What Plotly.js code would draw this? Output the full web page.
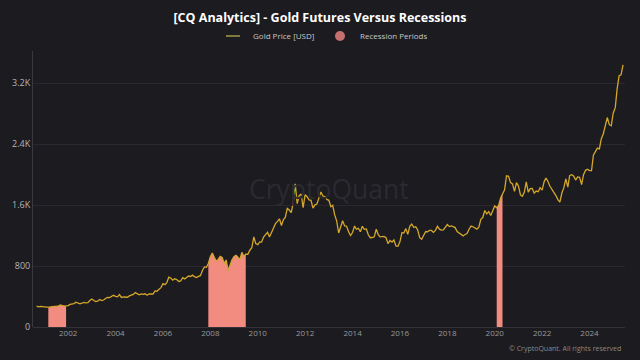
<!DOCTYPE html>
<html>
<head>
<meta charset="utf-8">
<script src="https://cdn.plot.ly/plotly-3.0.1.min.js"></script>
<style>
  html, body { margin: 0; padding: 0; background: #1c1b20; }
  #chart { width: 640px; height: 360px; }
</style>
</head>
<body>
<div id="chart"></div>
<script>
// ---- Data ----
const chartTitle = '[CQ Analytics] - Gold Futures Versus Recessions';
const goldName = 'Gold Price [USD]';
const recessionName = 'Recession Periods';
const goldStartYear = 2000;
const goldStartMonth = 9; // September 2000, monthly values follow
const goldPrice = [
  273, 265, 270, 272,                                              // 2000 Sep-Dec
  265, 262, 258, 263, 268, 270, 266, 273, 290, 280, 275, 278,      // 2001
  282, 296, 302, 308, 326, 318, 304, 312, 323, 317, 319, 347,      // 2002
  368, 348, 335, 338, 361, 346, 354, 375, 388, 386, 398, 416,      // 2003
  402, 396, 426, 388, 394, 395, 391, 408, 416, 428, 452, 438,      // 2004
  423, 435, 428, 436, 417, 436, 430, 433, 473, 470, 495, 517,      // 2005
  569, 556, 582, 654, 643, 614, 633, 624, 598, 604, 647, 632,      // 2006
  651, 669, 663, 681, 660, 650, 665, 673, 743, 789, 783, 834,      // 2007
  923, 972, 916, 865, 887, 928, 912, 833, 880, 740, 814, 884,      // 2008
  927, 942, 916, 883, 980, 927, 955, 955, 1008, 1040, 1182, 1096,  // 2009
  1081, 1118, 1115, 1180, 1212, 1244, 1181, 1246, 1307, 1357, 1386, 1421, // 2010
  1332, 1411, 1439, 1556, 1536, 1500, 1628, 1880, 1620, 1724, 1746, 1566, // 2011
  1737, 1710, 1669, 1664, 1561, 1604, 1615, 1687, 1772, 1719, 1713, 1675, // 2012
  1663, 1578, 1596, 1472, 1393, 1234, 1312, 1395, 1327, 1323, 1250, 1202, // 2013
  1240, 1326, 1284, 1296, 1250, 1322, 1282, 1287, 1210, 1172, 1175, 1184, // 2014
  1283, 1213, 1183, 1184, 1190, 1172, 1095, 1135, 1115, 1142, 1065, 1061, // 2015
  1118, 1238, 1234, 1292, 1216, 1322, 1351, 1309, 1316, 1273, 1173, 1152, // 2016
  1211, 1253, 1249, 1268, 1268, 1242, 1269, 1322, 1284, 1271, 1275, 1309, // 2017
  1345, 1318, 1327, 1318, 1305, 1253, 1233, 1206, 1196, 1215, 1226, 1283, // 2018
  1325, 1316, 1298, 1285, 1311, 1413, 1437, 1529, 1485, 1514, 1464, 1523, // 2019
  1589, 1566, 1596, 1694, 1751, 1800, 1986, 1978, 1895, 1879, 1780, 1895, // 2020
  1850, 1734, 1716, 1769, 1906, 1771, 1817, 1818, 1757, 1784, 1776, 1829, // 2021
  1796, 1909, 1954, 1911, 1848, 1807, 1782, 1726, 1672, 1640, 1759, 1826, // 2022
  1945, 1836, 1986, 1999, 1982, 1929, 1970, 1966, 1870, 2000, 2057, 2072, // 2023
  2053, 2054, 2254, 2302, 2348, 2339, 2473, 2537, 2660, 2750, 2656, 2641, // 2024
  2810, 2880, 3120, 3300, 3310, 3440                                // 2025 Jan-Jun
];
const recessionStart = ['2001-03-01', '2007-12-01', '2020-02-01'];
const recessionEnd   = ['2001-11-30', '2009-06-30', '2020-04-30'];
const yTickVals  = [0, 800, 1600, 2400, 3200];
const yTickText  = ['0', '800', '1.6K', '2.4K', '3.2K'];

// ---- Build dates ----
function pad(n){ return (n < 10 ? '0' : '') + n; }
const goldDates = goldPrice.map((_, i) => {
  const m0 = goldStartMonth - 1 + i;
  const y = goldStartYear + Math.floor(m0 / 12);
  const m = (m0 % 12) + 1;
  return y + '-' + pad(m) + '-01';
});
const goldT = goldDates.map(d => Date.parse(d));

function valueAt(t){
  for (let i = 0; i < goldT.length - 1; i++) {
    if (t >= goldT[i] && t <= goldT[i+1]) {
      const f = (t - goldT[i]) / (goldT[i+1] - goldT[i]);
      return goldPrice[i] + f * (goldPrice[i+1] - goldPrice[i]);
    }
  }
  return goldPrice[goldPrice.length - 1];
}

const traces = [];
recessionStart.forEach((s, k) => {
  const t0 = Date.parse(s), t1 = Date.parse(recessionEnd[k]);
  const xs = [s], ys = [valueAt(t0)];
  goldT.forEach((t, i) => { if (t > t0 && t < t1) { xs.push(goldDates[i]); ys.push(goldPrice[i]); } });
  xs.push(recessionEnd[k]); ys.push(valueAt(t1));
  traces.push({
    x: xs, y: ys, type: 'scatter', mode: 'lines', fill: 'tozeroy',
    fillcolor: '#f28b80', line: {width: 0, color: '#f28b80'},
    showlegend: false, hoverinfo: 'skip'
  });
});

traces.push({
  x: goldDates, y: goldPrice, type: 'scatter', mode: 'lines',
  line: {color: '#d4a72a', width: 1.3}, showlegend: false, name: goldName
});
// legend entries
traces.push({
  x: [null], y: [null], type: 'scatter', mode: 'markers', name: goldName,
  marker: {symbol: 'line-ew-open', size: 10, color: '#a09a45', line: {color: '#a09a45', width: 1.5}}
});
traces.push({
  x: [null], y: [null], type: 'scatter', mode: 'markers', name: recessionName,
  marker: {symbol: 'circle', size: 10, color: '#c56f6f'}
});

const plotL = 33, plotR = 15, plotT = 48, plotB = 33;
const layout = {
  width: 640, height: 360,
  paper_bgcolor: '#1c1b20', plot_bgcolor: '#1c1b20',
  margin: {l: plotL, r: plotR, t: plotT, b: plotB},
  font: {family: 'Open Sans, Noto Sans, sans-serif', color: '#bbbbbb'},
  title: {
    text: '<b>' + chartTitle + '</b>',
    font: {size: 12.5, color: '#ffffff', family: 'Open Sans, sans-serif'},
    x: 0.5, xanchor: 'center', y: 1 - 18/360, yanchor: 'middle', yref: 'container'
  },
  legend: {
    orientation: 'h', x: 0.5, xanchor: 'center', xref: 'container',
    y: 1 - 36/360, yanchor: 'middle', yref: 'container',
    font: {size: 8, color: '#c8c8c8'}, itemwidth: 30, bgcolor: 'rgba(0,0,0,0)',
    entrywidth: 62, entrywidthmode: 'pixels'
  },
  xaxis: {
    type: 'date', range: ['2000-07-08', '2025-07-01'],
    dtick: 'M24', tick0: '2000-01-01', tickformat: '%Y',
    showgrid: false, zeroline: false, showline: false,
    tickfont: {size: 8, color: '#9a9a9a'}, ticks: ''
  },
  yaxis: {
    range: [0, 3630], tickvals: yTickVals, ticktext: yTickText,
    showgrid: true, gridcolor: '#29282e', gridwidth: 1,
    zeroline: true, zerolinecolor: '#333238',
    showline: true, linecolor: '#3a393f', linewidth: 1,
    tickfont: {size: 9, color: '#b5b5b5'}, ticks: ''
  },
  annotations: [
    {text: 'CryptoQuant', x: 0.5, y: 0.5, xref: 'paper', yref: 'paper',
     xanchor: 'center', yanchor: 'middle', showarrow: false,
     font: {size: 26.5, color: '#2b2a31', family: 'Open Sans, sans-serif'}},
    {text: '© CryptoQuant. All rights reserved',
     x: (623 - plotL) / (640 - plotL - plotR), y: (327 - 349) / (327 - plotT),
     xref: 'paper', yref: 'paper', showarrow: false, xanchor: 'right', yanchor: 'middle',
     font: {size: 7, color: '#8a8a8a'}}
  ]
};

Plotly.newPlot('chart', traces, layout, {displayModeBar: false, staticPlot: true});
</script>
</body>
</html>
